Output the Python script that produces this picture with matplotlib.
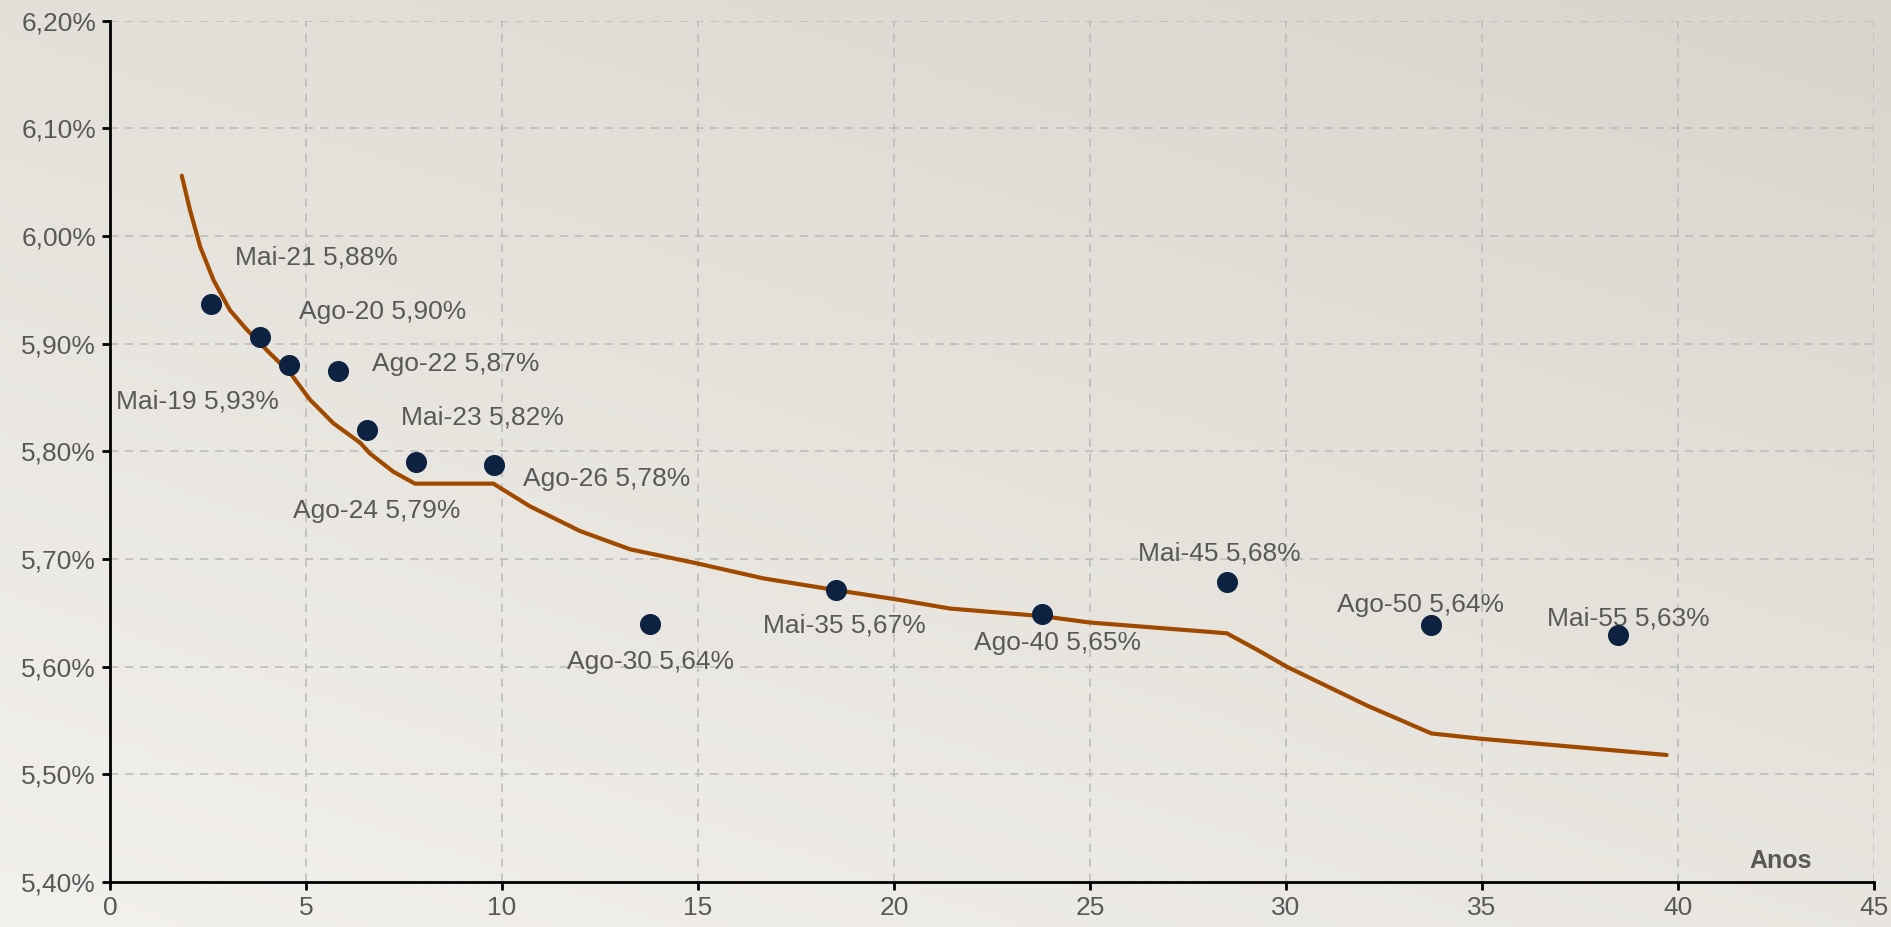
import matplotlib.pyplot as plt
import matplotlib.ticker as mticker
import numpy as np

plt.rcParams['font.family'] = ['Liberation Sans', 'DejaVu Sans']

# titulos (anos ate o vencimento, taxa %)
names = ['Mai-19', 'Ago-20', 'Mai-21', 'Ago-22', 'Mai-23', 'Ago-24', 'Ago-26',
         'Ago-30', 'Mai-35', 'Ago-40', 'Mai-45', 'Ago-50', 'Mai-55']
label_vals = ['5,93%', '5,90%', '5,88%', '5,87%', '5,82%', '5,79%', '5,78%',
              '5,64%', '5,67%', '5,65%', '5,68%', '5,64%', '5,63%']
anos = [2.57, 3.83, 4.57, 5.82, 6.55, 7.81, 9.80, 13.78, 18.51, 23.77, 28.49, 33.71, 38.46]
taxas = [5.937, 5.906, 5.880, 5.875, 5.820, 5.790, 5.787, 5.640, 5.671, 5.649, 5.679, 5.639, 5.629]

# curva
curva_x = [1.83, 2.04, 2.30, 2.64, 3.06, 3.49, 4.08, 4.59, 5.10, 5.70, 6.38, 6.63,
           7.23, 7.78, 9.78, 10.71, 11.99, 13.27, 14.97, 16.67, 18.37, 20.15, 21.43,
           23.77, 25.0, 27.81, 28.49, 29.25, 30.02, 32.06, 33.71, 35.0, 39.71]
curva_y = [6.056, 6.024, 5.990, 5.959, 5.931, 5.913, 5.891, 5.873, 5.848, 5.826,
           5.808, 5.798, 5.781, 5.770, 5.770, 5.749, 5.726, 5.709, 5.696, 5.682,
           5.672, 5.662, 5.654, 5.647, 5.641, 5.633, 5.631, 5.616, 5.600, 5.564,
           5.538, 5.533, 5.518]

# posicao dos rotulos (canto esquerdo, centro vertical)
label_pos = [(0.15, 5.846), (4.82, 5.929), (3.19, 5.980), (6.68, 5.881), (7.42, 5.831),
             (4.67, 5.745), (10.54, 5.774), (11.66, 5.604), (16.67, 5.638),
             (22.04, 5.622), (26.23, 5.705), (31.31, 5.657), (36.67, 5.645)]

fig = plt.figure(figsize=(18.91, 9.27), dpi=100)

# fundo em degrade
bg = fig.add_axes([0, 0, 1, 1], zorder=-1)
gx, gy = np.meshgrid(np.linspace(0, 1, 200), np.linspace(0, 1, 200))
g = 0.6 * gy + 0.4 * gx
c0 = np.array([0xf3, 0xf1, 0xed]) / 255
c1 = np.array([0xd9, 0xd5, 0xcd]) / 255
img = c0[None, None, :] * (1 - g[..., None]) + c1[None, None, :] * g[..., None]
bg.imshow(img, origin='lower', aspect='auto', extent=[0, 1, 0, 1])
bg.axis('off')

ax = fig.add_axes([0.0582, 0.0485, 0.9328, 0.9292])
ax.patch.set_alpha(0)

ax.plot(curva_x, curva_y, color='#a04a00', lw=3.0, solid_capstyle='round',
        solid_joinstyle='round', zorder=3)
ax.scatter(anos, taxas, s=200, color='#0d2240', zorder=4)

for (lx, ly), n, v in zip(label_pos, names, label_vals):
    ax.text(lx, ly, f'{n} {v}', fontsize=19, color='#595959', ha='left', va='center')

ax.text(42.63, 5.42, 'Anos', fontsize=18, fontweight='bold', color='#595959',
        ha='center', va='center')

ax.set_xlim(0, 45)
ax.set_ylim(5.40, 6.20)
ax.set_xticks(range(0, 46, 5))
ax.set_yticks(np.arange(5.40, 6.201, 0.10))
ax.yaxis.set_major_formatter(mticker.FuncFormatter(lambda v, p: f'{v:.2f}%'.replace('.', ',')))

ax.grid(True, ls=(0, (5, 4)), color='#bdbdbd', lw=1.2)
ax.set_axisbelow(True)
for s in ['top', 'right']:
    ax.spines[s].set_visible(False)
for s in ['left', 'bottom']:
    ax.spines[s].set_linewidth(2)
    ax.spines[s].set_color('black')
ax.tick_params(axis='both', length=6, width=2, labelsize=19, labelcolor='#595959', pad=4)
for lbl in ax.get_xticklabels() + ax.get_yticklabels():
    lbl.set_clip_on(False)

fig.savefig('out.png', dpi=100)
